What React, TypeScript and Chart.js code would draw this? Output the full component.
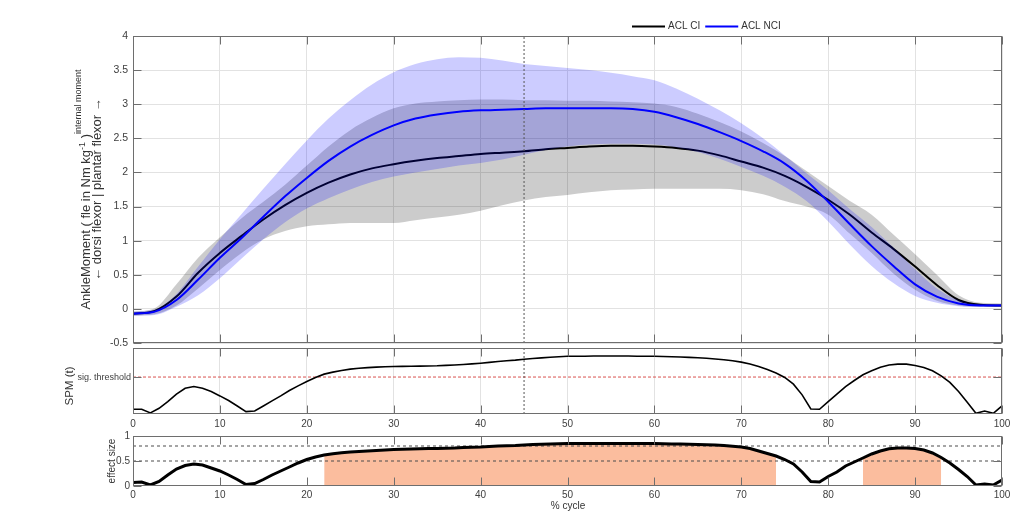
import React, { useEffect, useRef } from "react";
import { Chart, registerables } from "chart.js";

Chart.register(...registerables);

// ---------------- data ----------------
// % of cycle for the mean / SD curves
const PCT = [0, 2.5, 5, 7.5, 10, 12.5, 15, 17.5, 20, 22.5, 25, 27.5, 30, 32.5, 35, 37.5, 40, 42.5, 45, 47.5, 50,
  52.5, 55, 57.5, 60, 62.5, 65, 67.5, 70, 72.5, 75, 77.5, 80, 82.5, 85, 87.5, 90, 92.5, 95, 97.5, 100];

const CI_MEAN = [-0.07, -0.03, 0.18, 0.53, 0.82, 1.07, 1.31, 1.52, 1.70, 1.85, 1.97, 2.06, 2.12, 2.17, 2.21, 2.24,
  2.27, 2.29, 2.31, 2.34, 2.36, 2.38, 2.39, 2.39, 2.38, 2.36, 2.32, 2.25, 2.16, 2.07, 1.95, 1.79, 1.60, 1.38, 1.12,
  0.88, 0.62, 0.35, 0.13, 0.06, 0.05];
const CI_UPPER = [-0.04, 0.01, 0.36, 0.75, 1.05, 1.33, 1.57, 1.82, 2.10, 2.38, 2.62, 2.80, 2.94, 3.01, 3.04, 3.06,
  3.07, 3.07, 3.06, 3.06, 3.05, 3.05, 3.04, 3.03, 3.01, 2.96, 2.86, 2.74, 2.60, 2.43, 2.24, 2.02, 1.80, 1.58, 1.38,
  1.09, 0.80, 0.50, 0.20, 0.09, 0.08];
const CI_LOWER = [-0.10, -0.08, 0.05, 0.30, 0.57, 0.82, 1.02, 1.14, 1.21, 1.24, 1.26, 1.26, 1.26, 1.30, 1.34, 1.38,
  1.44, 1.52, 1.59, 1.64, 1.67, 1.71, 1.74, 1.75, 1.76, 1.76, 1.76, 1.76, 1.74, 1.68, 1.58, 1.50, 1.38, 1.10, 0.82,
  0.52, 0.28, 0.12, 0.05, 0.03, 0.03];

const NCI_MEAN = [-0.07, -0.04, 0.13, 0.43, 0.75, 1.04, 1.35, 1.65, 1.92, 2.17, 2.38, 2.55, 2.69, 2.79, 2.85, 2.89,
  2.91, 2.92, 2.93, 2.94, 2.94, 2.94, 2.94, 2.93, 2.89, 2.81, 2.71, 2.59, 2.46, 2.31, 2.13, 1.88, 1.57, 1.24, 0.92,
  0.63, 0.36, 0.18, 0.08, 0.05, 0.05];
const NCI_UPPER = [-0.04, -0.01, 0.22, 0.62, 1.02, 1.39, 1.76, 2.12, 2.47, 2.79, 3.06, 3.29, 3.47, 3.59, 3.66, 3.69,
  3.68, 3.64, 3.59, 3.56, 3.53, 3.50, 3.46, 3.41, 3.35, 3.23, 3.08, 2.91, 2.72, 2.50, 2.25, 1.99, 1.74, 1.46, 1.20,
  0.90, 0.58, 0.30, 0.13, 0.07, 0.07];
const NCI_LOWER = [-0.10, -0.09, 0.03, 0.20, 0.45, 0.74, 1.02, 1.27, 1.47, 1.62, 1.75, 1.86, 1.94, 2.00, 2.05, 2.10,
  2.14, 2.19, 2.26, 2.33, 2.38, 2.41, 2.42, 2.42, 2.41, 2.37, 2.30, 2.20, 2.08, 1.95, 1.79, 1.58, 1.28, 0.94, 0.63,
  0.38, 0.19, 0.09, 0.04, 0.03, 0.03];

// % of cycle for the SPM and effect-size curves
const CYCLE = [0, 1, 2, 3, 4, 5, 6, 7, 8, 9, 10, 11, 12, 13, 14, 15, 16, 17, 18, 19, 20, 21, 22, 23, 24, 25, 26, 27,
  28, 29, 30, 31, 32, 33, 34, 35, 36, 37, 38, 39, 40, 41, 42, 43, 44, 45, 46, 47, 48, 49, 50, 51, 52, 53, 54, 55, 56,
  57, 58, 59, 60, 61, 62, 63, 64, 65, 66, 67, 68, 69, 70, 71, 72, 73, 74, 75, 76, 77, 78, 79, 80, 81, 82, 83, 84, 85,
  86, 87, 88, 89, 90, 91, 92, 93, 94, 95, 96, 97, 98, 99, 100];

const SPM_T = [0.36, 0.36, 0.08, 0.43, 0.94, 1.50, 1.95, 2.08, 1.95, 1.70, 1.37, 1.02, 0.61, 0.18, 0.23, 0.61, 0.99,
  1.37, 1.78, 2.13, 2.46, 2.77, 3.02, 3.17, 3.30, 3.40, 3.46, 3.51, 3.55, 3.58, 3.60, 3.61, 3.62, 3.63, 3.64, 3.65,
  3.68, 3.71, 3.75, 3.80, 3.85, 3.91, 3.98, 4.03, 4.08, 4.15, 4.20, 4.25, 4.30, 4.34, 4.37, 4.38, 4.38, 4.39, 4.39,
  4.39, 4.39, 4.39, 4.38, 4.38, 4.37, 4.36, 4.34, 4.32, 4.29, 4.26, 4.22, 4.17, 4.11, 4.03, 3.93, 3.79, 3.60, 3.37,
  3.10, 2.77, 2.26, 1.45, 0.38, 0.36, 0.94, 1.50, 2.08, 2.54, 2.97, 3.27, 3.55, 3.71, 3.78, 3.78, 3.68, 3.53, 3.27,
  2.89, 2.39, 1.70, 0.89, 0.05, 0.23, 0.05, 0.61];
const SPM_THRESHOLD = 2.8;

const EFFECT = [0.07, 0.08, 0.02, 0.09, 0.22, 0.34, 0.41, 0.44, 0.42, 0.36, 0.30, 0.22, 0.13, 0.03, 0.05, 0.13, 0.22,
  0.30, 0.38, 0.46, 0.53, 0.58, 0.62, 0.645, 0.665, 0.68, 0.69, 0.70, 0.71, 0.72, 0.73, 0.735, 0.74, 0.745, 0.75, 0.75,
  0.755, 0.76, 0.77, 0.775, 0.78, 0.79, 0.80, 0.805, 0.81, 0.82, 0.83, 0.835, 0.84, 0.845, 0.85, 0.85, 0.85, 0.85,
  0.85, 0.85, 0.85, 0.85, 0.85, 0.85, 0.85, 0.845, 0.84, 0.84, 0.835, 0.83, 0.825, 0.82, 0.81, 0.795, 0.78, 0.75,
  0.70, 0.65, 0.60, 0.53, 0.44, 0.28, 0.09, 0.08, 0.19, 0.28, 0.40, 0.48, 0.56, 0.64, 0.70, 0.745, 0.76, 0.76, 0.75,
  0.72, 0.66, 0.57, 0.46, 0.33, 0.19, 0.02, 0.04, 0.02, 0.12];
const EFFECT_REFS = [0.8, 0.5];
const SIG_CLUSTERS = [[22, 74], [84, 93]];

const EVENT_X = 45;
const X_TICKS = [0, 10, 20, 30, 40, 50, 60, 70, 80, 90, 100];
const MAIN_Y_TICKS = [-0.5, 0, 0.5, 1, 1.5, 2, 2.5, 3, 3.5, 4];
const ES_Y_TICKS = [0, 0.5, 1];
const SERIES_LABELS = ["ACL CI", "ACL NCI"];

// ---------------- styling ----------------
const W = 1024;
const H = 512;
const FONT = '"Liberation Sans", Arial, Helvetica, sans-serif';
const TICK_TEXT = "#404040";
const LABEL_TEXT = "#333333";
const AXIS = "#6e6e6e";
const GRID = "#e2e2e2";
const LEFT = 133;
const RIGHT = 1002;
const XAXIS_H = 20;

const pts = (xs: number[], ys: (number | null)[]) => xs.map((x, i) => ({ x, y: ys[i] }));

// Box + inward MATLAB-like tick marks
const matlabAxes = {
  id: "matlabAxes",
  afterDraw(chart: any, _args: any, opts: any) {
    const { ctx, chartArea: a, scales } = chart;
    const len = opts.tickLen ?? 8;
    const l = Math.round(a.left) + 0.5;
    const r = Math.round(a.right) - 0.5;
    const t = Math.round(a.top) + 0.5;
    const b = Math.round(a.bottom) - 0.5;
    ctx.save();
    ctx.strokeStyle = AXIS;
    ctx.lineWidth = 1;
    ctx.setLineDash([]);
    ctx.beginPath();
    for (const v of opts.xTicks || []) {
      const px = Math.round(scales.x.getPixelForValue(v)) + 0.5;
      ctx.moveTo(px, t); ctx.lineTo(px, t + len);
      ctx.moveTo(px, b); ctx.lineTo(px, b - len);
    }
    for (const v of opts.yTicks || []) {
      const py = Math.round(scales.y.getPixelForValue(v)) + 0.5;
      ctx.moveTo(l, py); ctx.lineTo(l + len, py);
      ctx.moveTo(r, py); ctx.lineTo(r - len, py);
    }
    ctx.stroke();
    ctx.strokeRect(l, t, r - l, b - t);
    ctx.restore();
  },
};

// Free text (axis titles with superscripts)
const texts = {
  id: "texts",
  afterDraw(chart: any, _args: any, opts: any) {
    const ctx = chart.ctx;
    for (const it of opts.items || []) {
      ctx.save();
      ctx.translate(it.x, it.y);
      if (it.rotate) ctx.rotate(it.rotate);
      const parts = it.parts;
      let total = 0;
      const widths: number[] = [];
      for (const p of parts) {
        ctx.font = `${p.size}px ${FONT}`;
        const w = ctx.measureText(p.text).width;
        widths.push(w);
        total += w;
      }
      let x = -total / 2;
      ctx.fillStyle = it.color || LABEL_TEXT;
      ctx.textAlign = "left";
      ctx.textBaseline = it.baseline || "middle";
      parts.forEach((p: any, i: number) => {
        ctx.font = `${p.size}px ${FONT}`;
        ctx.fillText(p.text, x, (it.base || 0) - (p.raise || 0));
        x += widths[i];
      });
      ctx.restore();
    }
  },
};

// Legend line samples drawn from the dataset labels/colours
const lineLegend = {
  id: "lineLegend",
  afterDraw(chart: any, _args: any, opts: any) {
    const ctx = chart.ctx;
    let x = opts.x;
    const y = opts.y;
    ctx.save();
    ctx.font = `${opts.size}px ${FONT}`;
    ctx.textBaseline = "middle";
    ctx.textAlign = "left";
    for (const ds of chart.data.datasets) {
      if (!ds.legend) continue;
      ctx.strokeStyle = ds.borderColor;
      ctx.lineWidth = 2;
      ctx.beginPath();
      ctx.moveTo(x, y + 0.5);
      ctx.lineTo(x + opts.lineLen, y + 0.5);
      ctx.stroke();
      x += opts.lineLen + 3;
      ctx.fillStyle = LABEL_TEXT;
      ctx.fillText(ds.label, x, y + 0.5);
      x += ctx.measureText(ds.label).width + 5;
    }
    ctx.restore();
  },
};

const xScale = (showLabels: boolean, grid: boolean, padding: number) => ({
  type: "linear",
  min: 0,
  max: 100,
  afterFit: (s: any) => { s.height = XAXIS_H; },
  afterBuildTicks: (s: any) => { s.ticks = X_TICKS.map((v) => ({ value: v })); },
  ticks: {
    display: showLabels,
    font: { family: FONT, size: 10 },
    color: TICK_TEXT,
    padding,
    maxRotation: 0,
    minRotation: 0,
    autoSkip: false,
  },
  grid: { display: grid, color: GRID, drawTicks: false, lineWidth: 1 },
  border: { display: false },
});

const yScale = (min: number, max: number, ticks: number[], extra: any) => ({
  type: "linear",
  min,
  max,
  afterFit: (s: any) => { s.width = LEFT; },
  afterBuildTicks: (s: any) => { s.ticks = ticks.map((v) => ({ value: v })); },
  border: { display: false },
  ...extra,
});

const base = (top: number, bottom: number) => ({
  responsive: false,
  maintainAspectRatio: false,
  animation: false,
  events: [],
  layout: { padding: { left: 0, right: W - RIGHT, top, bottom: H - bottom - XAXIS_H } },
  elements: { point: { radius: 0 } },
});

function mainConfig(): any {
  const band = { pointRadius: 0, borderColor: "transparent", borderWidth: 0, cubicInterpolationMode: "monotone" };
  return {
    type: "line",
    data: {
      datasets: [
        { ...band, data: pts(PCT, CI_UPPER), fill: false, order: 6 },
        { ...band, data: pts(PCT, CI_LOWER), fill: "-1", backgroundColor: "rgba(0,0,0,0.2)", order: 5 },
        { label: SERIES_LABELS[0], legend: true, data: pts(PCT, CI_MEAN), borderColor: "#000000", borderWidth: 2, fill: false, pointRadius: 0, cubicInterpolationMode: "monotone", order: 4 },
        { ...band, data: pts(PCT, NCI_UPPER), fill: false, order: 3 },
        { ...band, data: pts(PCT, NCI_LOWER), fill: "-1", backgroundColor: "rgba(0,0,255,0.2)", order: 2 },
        { label: SERIES_LABELS[1], legend: true, data: pts(PCT, NCI_MEAN), borderColor: "#0000ff", borderWidth: 2, fill: false, pointRadius: 0, cubicInterpolationMode: "monotone", order: 1 },
        { data: [{ x: EVENT_X, y: -0.5 }, { x: EVENT_X, y: 4 }], borderColor: "#555555", borderWidth: 1, borderDash: [2, 2], pointRadius: 0, fill: false, order: 0 },
      ],
    },
    options: {
      ...base(36, 343),
      scales: {
        x: xScale(false, true, 0),
        y: yScale(-0.5, 4, MAIN_Y_TICKS, {
          ticks: { font: { family: FONT, size: 10.5 }, color: TICK_TEXT, padding: 5, callback: (v: any) => String(v) },
          grid: { color: GRID, drawTicks: false },
        }),
      },
      plugins: {
        legend: { display: false },
        tooltip: { enabled: false },
        matlabAxes: { xTicks: X_TICKS, yTicks: MAIN_Y_TICKS, tickLen: 8 },
        lineLegend: { x: 632, y: 26, lineLen: 33, size: 10 },
        texts: {
          items: [
            {
              x: 86, y: 189.5, rotate: -Math.PI / 2, baseline: "alphabetic", base: 4,
              parts: [
                { text: "AnkleMoment ( fle in Nm kg", size: 13 },
                { text: "-1", size: 9, raise: 5 },
                { text: " )", size: 13 },
                { text: "internal moment", size: 9, raise: 9 },
              ],
            },
            {
              x: 86, y: 189.5, rotate: -Math.PI / 2, baseline: "alphabetic", base: 15,
              parts: [{ text: "\u2190 dorsi flexor | plantar flexor \u2192", size: 13 }],
            },
          ],
        },
      },
    },
    plugins: [matlabAxes, texts, lineLegend],
  };
}

function spmConfig(): any {
  return {
    type: "line",
    data: {
      datasets: [
        { data: pts(CYCLE, SPM_T), borderColor: "#000000", borderWidth: 1.6, pointRadius: 0, fill: false, tension: 0, order: 1 },
        { data: [{ x: 0, y: SPM_THRESHOLD }, { x: 100, y: SPM_THRESHOLD }], borderColor: "#d9534f", borderWidth: 1, borderDash: [3, 2], pointRadius: 0, fill: false, order: 2 },
        { data: [{ x: EVENT_X, y: 0 }, { x: EVENT_X, y: 5 }], borderColor: "#555555", borderWidth: 1, borderDash: [2, 2], pointRadius: 0, fill: false, order: 0 },
      ],
    },
    options: {
      ...base(348, 414),
      scales: {
        x: xScale(true, true, 4),
        y: yScale(0, 5, [SPM_THRESHOLD], {
          ticks: { font: { family: FONT, size: 9 }, color: TICK_TEXT, padding: 2, callback: () => "sig. threshold" },
          grid: { display: false, drawTicks: false },
        }),
      },
      plugins: {
        legend: { display: false },
        tooltip: { enabled: false },
        matlabAxes: { xTicks: X_TICKS, yTicks: [SPM_THRESHOLD], tickLen: 8 },
        texts: {
          items: [{ x: 70, y: 386, rotate: -Math.PI / 2, parts: [{ text: "SPM (t)", size: 11.5 }] }],
        },
      },
    },
    plugins: [matlabAxes, texts],
  };
}

function esConfig(): any {
  const inCluster = (x: number) => SIG_CLUSTERS.some(([a, b]) => x >= a && x <= b);
  const sig = CYCLE.map((x, i) => (inCluster(x) ? EFFECT[i] : null));
  return {
    type: "line",
    data: {
      datasets: [
        { data: pts(CYCLE, sig), borderColor: "transparent", borderWidth: 0, backgroundColor: "rgb(251,189,158)", fill: "origin", pointRadius: 0, spanGaps: false, order: 3 },
        ...EFFECT_REFS.map((v) => ({ data: [{ x: 0, y: v }, { x: 100, y: v }], borderColor: "#4d4d4d", borderWidth: 1, borderDash: [3, 3], pointRadius: 0, fill: false, order: 2 })),
        { data: pts(CYCLE, EFFECT), borderColor: "#000000", borderWidth: 3, pointRadius: 0, fill: false, tension: 0, order: 1 },
      ],
    },
    options: {
      ...base(436, 486),
      scales: {
        x: xScale(true, false, 3),
        y: yScale(0, 1, ES_Y_TICKS, {
          ticks: { font: { family: FONT, size: 10 }, color: TICK_TEXT, padding: 3, callback: (v: any) => String(v) },
          grid: { display: false, drawTicks: false },
        }),
      },
      plugins: {
        legend: { display: false },
        tooltip: { enabled: false },
        matlabAxes: { xTicks: X_TICKS, yTicks: ES_Y_TICKS, tickLen: 8 },
        texts: {
          items: [
            { x: 112.5, y: 461, rotate: -Math.PI / 2, parts: [{ text: "effect size", size: 10 }] },
            { x: 568, y: 506, parts: [{ text: "% cycle", size: 10 }] },
          ],
        },
      },
    },
    plugins: [matlabAxes, texts],
  };
}

export default function App() {
  const mainRef = useRef<HTMLCanvasElement>(null);
  const spmRef = useRef<HTMLCanvasElement>(null);
  const esRef = useRef<HTMLCanvasElement>(null);

  useEffect(() => {
    const charts = [
      new Chart(mainRef.current as HTMLCanvasElement, mainConfig()),
      new Chart(spmRef.current as HTMLCanvasElement, spmConfig()),
      new Chart(esRef.current as HTMLCanvasElement, esConfig()),
    ];
    return () => charts.forEach((c) => c.destroy());
  }, []);

  const cs: React.CSSProperties = { position: "absolute", left: 0, top: 0, width: W, height: H };
  return (
    <div style={{ position: "absolute", left: 0, top: 0, width: W, height: H, background: "#ffffff", overflow: "hidden" }}>
      <canvas ref={mainRef} width={W} height={H} style={cs} />
      <canvas ref={spmRef} width={W} height={H} style={cs} />
      <canvas ref={esRef} width={W} height={H} style={cs} />
    </div>
  );
}
